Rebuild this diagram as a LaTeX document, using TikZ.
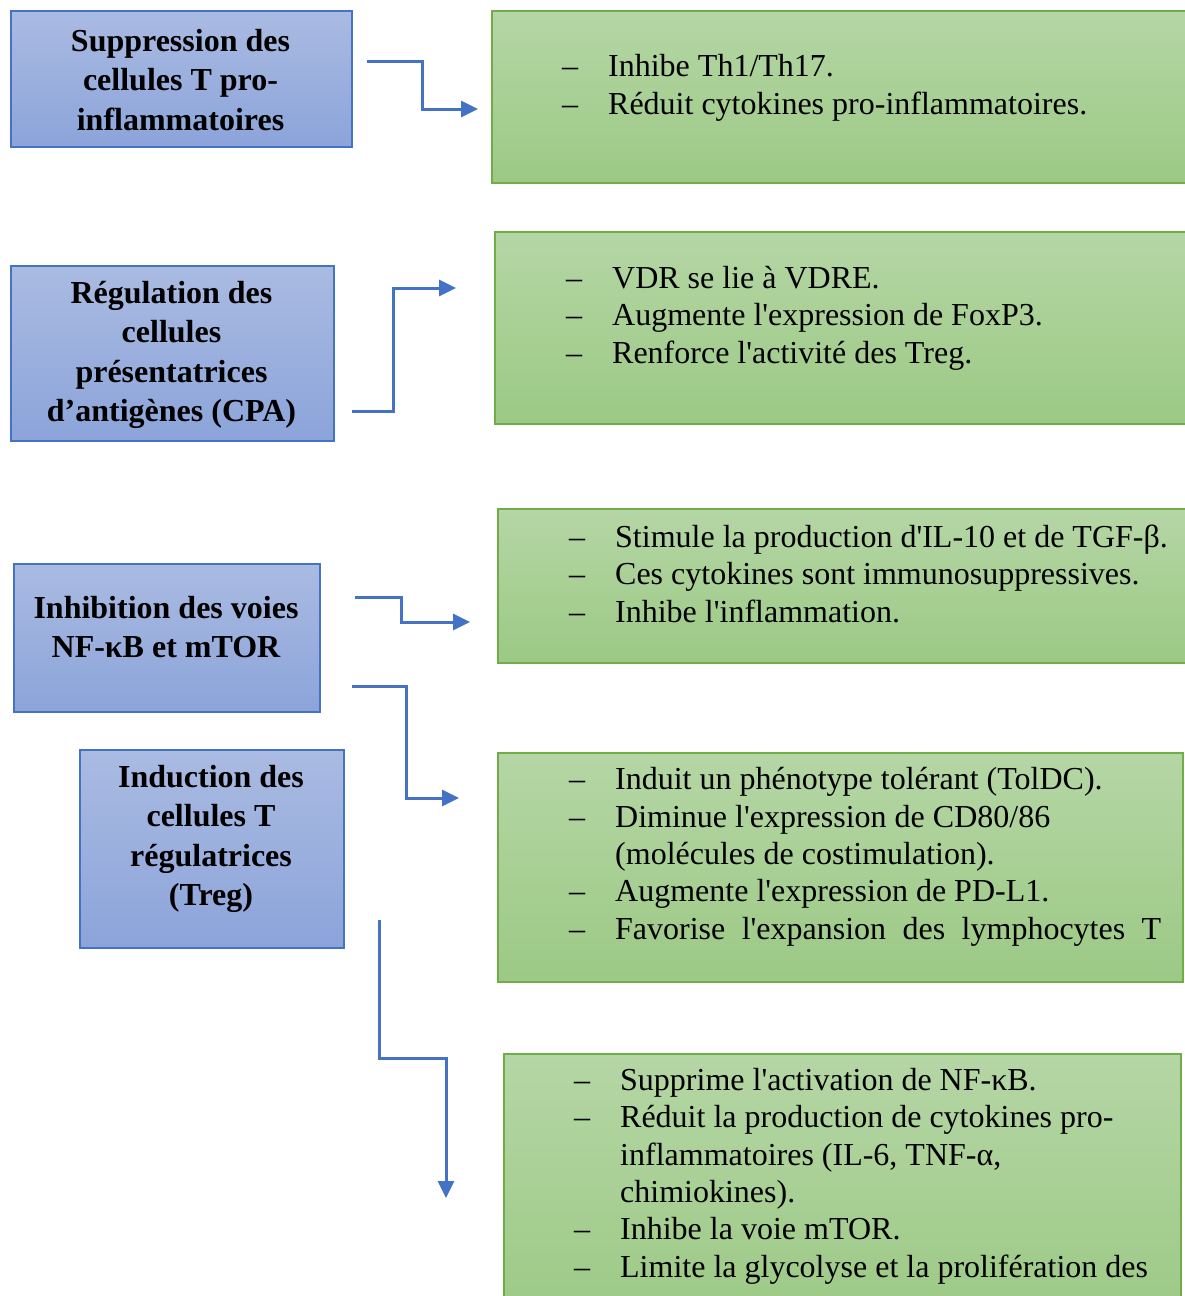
\documentclass[tikz,border=0pt]{standalone}
\usepackage{fontspec}
\setmainfont{Liberation Serif}[Ligatures=TeXOff]
\usetikzlibrary{arrows.meta}
\definecolor{bord}{HTML}{4472C4}
\definecolor{btop}{HTML}{AABBE2}
\definecolor{bbot}{HTML}{8CA4DA}
\definecolor{gbord}{HTML}{70AD47}
\definecolor{gtop}{HTML}{B5D6A5}
\definecolor{gbot}{HTML}{9CC985}
\newcommand{\ditem}[1]{\makebox[46pt][l]{–}#1}
\newcommand{\dcont}[1]{\hspace*{46pt}#1}
\begin{document}
\begin{tikzpicture}[x=1pt,y=-1pt,
  bluebox/.style={draw=bord, line width=1.5pt, top color=btop, bottom color=bbot, inner sep=0pt, anchor=north west},
  greenbox/.style={draw=gbord, line width=1.5pt, top color=gtop, bottom color=gbot, inner sep=0pt, anchor=north west},
  btext/.style={align=center, inner sep=0pt, font=\fontsize{32}{39.5}\selectfont\bfseries},
  gtext/.style={align=left, inner sep=0pt, anchor=base west, font=\fontsize{32}{37.3}\selectfont},
  conn/.style={draw=bord, line width=3pt, -{Triangle[length=17pt,width=16pt]}}]
\useasboundingbox (0,0) rectangle (1185,1296);
% blue boxes
\node[bluebox, minimum width=341pt, minimum height=136pt] (b1) at (10,10) {};
\node[bluebox, minimum width=323pt, minimum height=175pt] (b2) at (10,265) {};
\node[bluebox, minimum width=306pt, minimum height=148pt] (b3) at (13,563) {};
\node[bluebox, minimum width=264pt, minimum height=198pt] (b4) at (79,749) {};
\node[btext] (bt1) at (180.5,80) {Suppression des\\cellules T pro-\\inflammatoires};
\node[btext] (bt2) at (171.5,355) {Régulation des\\cellules\\présentatrices\\d’antigènes (CPA)};
\node[btext] (bt3) at (166,627) {Inhibition des voies\\NF-κB et mTOR};
\node[btext] (bt4) at (211,839) {Induction des\\cellules T\\régulatrices\\(Treg)};
% green boxes
\node[greenbox, minimum width=696pt, minimum height=172pt] (g1) at (491,10) {};
\node[greenbox, minimum width=693pt, minimum height=192pt] (g2) at (494,231) {};
\node[greenbox, minimum width=690pt, minimum height=154pt] (g3) at (497,508) {};
\node[greenbox, minimum width=685pt, minimum height=229pt] (g4) at (497,752) {};
\node[greenbox, minimum width=677pt, minimum height=270pt] (g5) at (503,1053) {};
% anchored at the baseline of the last line
\node[gtext] (gt1) at (562,114) {\ditem{Inhibe Th1/Th17.}\\\ditem{Réduit cytokines pro-inflammatoires.}};
\node[gtext] (gt2) at (566,363) {\ditem{VDR se lie à VDRE.}\\\ditem{Augmente l'expression de FoxP3.}\\\ditem{Renforce l'activité des Treg.}};
\node[gtext] (gt3) at (569,622) {\ditem{Stimule la production d'IL-10 et de TGF-β.}\\\ditem{Ces cytokines sont immunosuppressives.}\\\ditem{Inhibe l'inflammation.}};
\node[gtext] (gt4) at (569,939) {\ditem{Induit un phénotype tolérant (TolDC).}\\\ditem{Diminue l'expression de CD80/86}\\\dcont{(molécules de costimulation).}\\\ditem{Augmente l'expression de PD-L1.}\\\ditem{\makebox[546pt][s]{Favorise l'expansion des lymphocytes T}}};
\node[gtext] (gt5) at (574,1277) {\ditem{Supprime l'activation de NF-κB.}\\\ditem{Réduit la production de cytokines pro-}\\\dcont{inflammatoires (IL-6, TNF-α,}\\\dcont{chimiokines).}\\\ditem{Inhibe la voie mTOR.}\\\ditem{Limite la glycolyse et la prolifération des}};
% connector ends
\coordinate (a1s) at (367,61);  \coordinate (a1e) at (478,109);
\coordinate (a2s) at (352,411); \coordinate (a2e) at (456,288);
\coordinate (a3s) at (355,597); \coordinate (a3e) at (470,622);
\coordinate (a4s) at (352,686); \coordinate (a4e) at (459,798);
\coordinate (a5s) at (379,920); \coordinate (a5e) at (446,1198);
\draw[conn] (a1s) -- (422,61) |- (a1e);
\draw[conn] (a2s) -- (393,411) |- (a2e);
\draw[conn] (a3s) -- (401,597) |- (a3e);
\draw[conn] (a4s) -- (406,686) |- (a4e);
\draw[conn] (a5s) |- (446,1058) -- (a5e);
\end{tikzpicture}
\end{document}
